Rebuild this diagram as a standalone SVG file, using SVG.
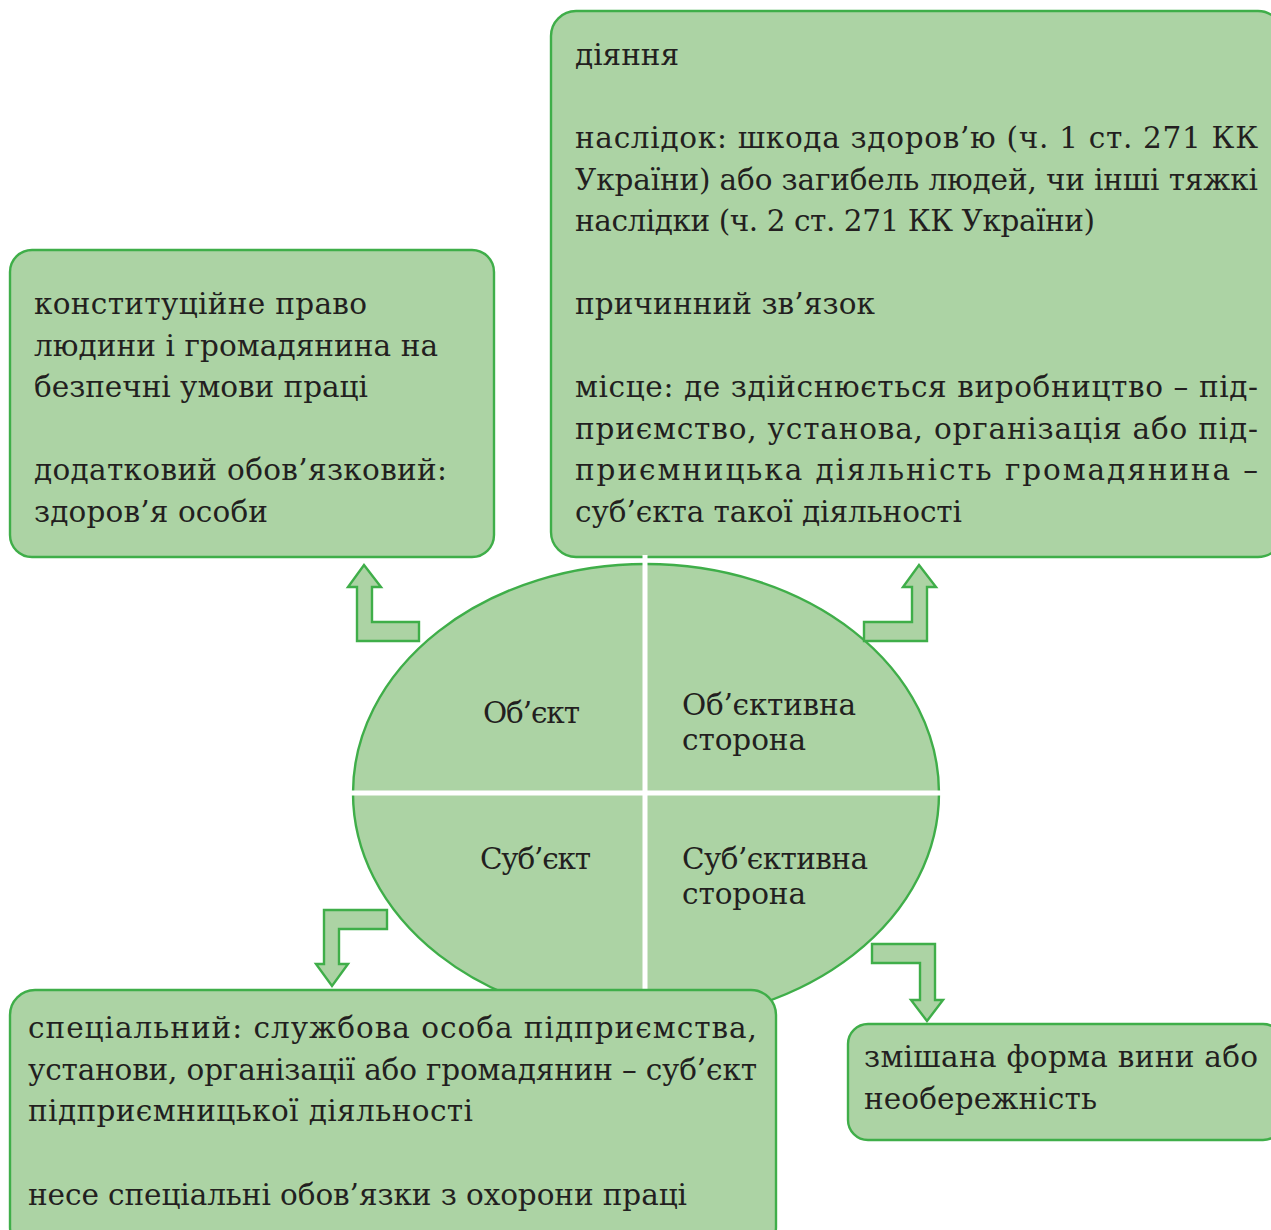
<svg xmlns="http://www.w3.org/2000/svg" width="1271" height="1230" viewBox="0 0 1271 1230">
<style>
.box{fill:#acd3a4;stroke:#3fae49;stroke-width:2.4}
.arr{fill:#acd3a4;stroke:#3fae49;stroke-width:2.4;stroke-linejoin:miter}
.t{font-family:"DejaVu Serif","Liberation Serif",serif;font-size:29.5px;fill:#231f20}
.cross{stroke:#ffffff;stroke-width:5}
</style>
<rect width="1271" height="1230" fill="#ffffff"/>
<g id="node-objective-side-details">
<rect class="box" x="551" y="11" width="732" height="546" rx="25"/>
<text class="t" x="575" y="65">діяння</text>
<text class="t" x="575" y="148" textLength="683" lengthAdjust="spacing">наслідок: шкода здоров’ю (ч. 1 ст. 271 КК</text>
<text class="t" x="575" y="190" textLength="683" lengthAdjust="spacing">України) або загибель людей, чи інші тяжкі</text>
<text class="t" x="575" y="231" textLength="520" lengthAdjust="spacing">наслідки (ч. 2 ст. 271 КК України)</text>
<text class="t" x="575" y="314" textLength="300" lengthAdjust="spacing">причинний зв’язок</text>
<text class="t" x="575" y="397" textLength="683" lengthAdjust="spacing">місце: де здійснюється виробництво – під-</text>
<text class="t" x="575" y="439" textLength="683" lengthAdjust="spacing">приємство, установа, організація або під-</text>
<text class="t" x="575" y="480" textLength="683" lengthAdjust="spacing">приємницька діяльність громадянина –</text>
<text class="t" x="575" y="522" textLength="387" lengthAdjust="spacing">суб’єкта такої діяльності</text>
</g>
<g id="node-object-details">
<rect class="box" x="10" y="250" width="484" height="307" rx="22"/>
<text class="t" x="34" y="314" textLength="333" lengthAdjust="spacing">конституційне право</text>
<text class="t" x="34" y="356" textLength="404" lengthAdjust="spacing">людини і громадянина на</text>
<text class="t" x="34" y="397" textLength="334" lengthAdjust="spacing">безпечні умови праці</text>
<text class="t" x="34" y="480" textLength="413" lengthAdjust="spacing">додатковий обов’язковий:</text>
<text class="t" x="34" y="522" textLength="234" lengthAdjust="spacing">здоров’я особи</text>
</g>
<g id="node-corpus-delicti">
<ellipse cx="646" cy="793" rx="293" ry="229" fill="#acd3a4" stroke="#3fae49" stroke-width="2.4"/>
<line class="cross" x1="348" y1="793" x2="943" y2="793"/>
<line class="cross" x1="645" y1="555" x2="645" y2="1000"/>
<text class="t" x="483" y="723" textLength="97" lengthAdjust="spacing">Об’єкт</text>
<text class="t" x="682" y="715" textLength="174" lengthAdjust="spacing">Об’єктивна</text>
<text class="t" x="682" y="750" textLength="124" lengthAdjust="spacing">сторона</text>
<text class="t" x="480" y="869" textLength="111" lengthAdjust="spacing">Суб’єкт</text>
<text class="t" x="682" y="869" textLength="186" lengthAdjust="spacing">Суб’єктивна</text>
<text class="t" x="682" y="904" textLength="124" lengthAdjust="spacing">сторона</text>
</g>
<g id="node-subject-details">
<rect class="box" x="10" y="990" width="766" height="262" rx="25"/>
<text class="t" x="28" y="1038" textLength="729" lengthAdjust="spacing">спеціальний: службова особа підприємства,</text>
<text class="t" x="28" y="1080" textLength="729" lengthAdjust="spacing">установи, організації або громадянин – суб’єкт</text>
<text class="t" x="28" y="1121" textLength="445" lengthAdjust="spacing">підприємницької діяльності</text>
<text class="t" x="28" y="1205" textLength="659" lengthAdjust="spacing">несе спеціальні обов’язки з охорони праці</text>
</g>
<g id="node-subjective-side-details">
<rect class="box" x="848" y="1024" width="435" height="116" rx="20"/>
<text class="t" x="864" y="1067" textLength="394" lengthAdjust="spacing">змішана форма вини або</text>
<text class="t" x="864" y="1109" textLength="233" lengthAdjust="spacing">необережність</text>
</g>
<g id="connectors">
<polygon class="arr" points="364,565 381,587 372,587 372,622 419,622 419,641 357,641 357,587 348,587"/>
<polygon class="arr" points="919,565 936,587 927,587 927,641 864,641 864,622 912,622 912,587 903,587"/>
<polygon class="arr" points="387,910 387,929 339,929 339,964 348,964 332,986 316,964 324,964 324,910"/>
<polygon class="arr" points="872,944 935,944 935,1000 943,1000 927,1021 911,1000 920,1000 920,963 872,963"/>
</g>
</svg>
